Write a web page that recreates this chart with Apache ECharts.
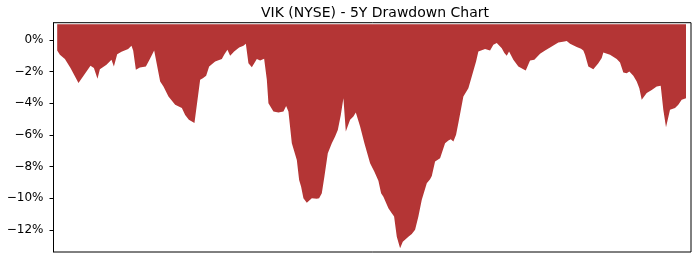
<!DOCTYPE html>
<html>
<head>
<meta charset="utf-8">
<script src="https://cdn.jsdelivr.net/npm/echarts@6/dist/echarts.min.js"></script>
<style>html,body{margin:0;padding:0;background:#fff}#c{width:700px;height:280px}</style>
</head>
<body>
<div id="c"></div>
<script>
// Position of each observation along the time axis (trading-day index units)
const dayPos = [0,2.7,7.7,13.3,21.3,29.3,33.3,36.7,40.3,42.7,49.3,54.3,56.7,60,64.3,71,74.3,76,78.7,82.7,88.7,92.7,97,103,106.3,111.3,118,124.7,128,131.7,137.3,143,145.7,149,152,158,164.7,167.3,170.3,173,177,182,186.3,188.7,191.3,194.7,199.7,203,204.7,207,209.7,211.3,216.3,221.3,226.3,229,231.3,234.7,239.7,242,244,246.3,249.7,254.7,259.7,262,264.7,267.3,270.7,274.7,278,280.7,283.7,286.3,288.7,293,296.3,298.7,300.7,303,307.3,313,317.3,321.3,324,326.3,331.3,334.7,337,339.7,343,345.7,351.3,354.7,358,361.3,364.7,369.7,373,374.7,378,383,388,391.3,393.7,396.3,399,401.3,406.3,411.3,414.7,419,421.3,428,433,436.3,439.7,444.7,447.3,449.7,452,456.3,461.3,466.3,468.7,473,477.3,483,488,494.7,501.3,507.3,509.7,513,514.7,519.7,524,526.3,528,531.3,536.3,541.3,544.7,546.3,553,559.7,563,566.3,569.7,572.3,576.3,579.7,582.3,584.7,589.7,594.7,599.7,603.7,606.3,609,613,618,621.3,624.7,629];
// Drawdown from running peak, percent
const drawdown = [-0.66,-0.93,-1.2,-1.77,-2.72,-1.99,-1.63,-1.77,-2.45,-1.84,-1.56,-1.25,-1.67,-0.89,-0.74,-0.57,-0.36,-0.66,-1.88,-1.73,-1.67,-1.2,-0.66,-2.62,-2.93,-3.57,-4.09,-4.3,-4.73,-5.04,-5.25,-2.51,-2.41,-2.26,-1.67,-1.35,-1.2,-0.89,-0.61,-0.99,-0.72,-0.47,-0.36,-0.23,-1.46,-1.71,-1.2,-1.29,-1.35,-1.18,-2.51,-3.99,-4.52,-4.58,-4.52,-4.16,-4.52,-6.52,-7.58,-8.84,-9.27,-10.0,-10.28,-10.0,-10.04,-10.0,-9.68,-8.63,-7.15,-6.52,-6.1,-5.68,-4.73,-3.67,-5.78,-5.04,-4.83,-4.58,-4.52,-5.47,-6.52,-7.78,-8.32,-8.9,-9.68,-9.9,-10.63,-10.95,-11.16,-12.43,-13.16,-12.75,-12.43,-12.26,-12.0,-11.16,-10.1,-9.05,-8.8,-8.59,-7.68,-7.47,-6.52,-6.35,-6.27,-6.42,-5.99,-5.25,-3.57,-3.04,-2.3,-1.35,-0.72,-0.57,-0.66,-0.3,-0.19,-0.51,-0.82,-0.99,-0.72,-1.25,-1.67,-1.84,-1.92,-1.29,-1.25,-0.87,-0.66,-0.41,-0.15,-0.09,-0.06,-0.23,-0.19,-0.44,-0.55,-0.66,-0.93,-1.67,-1.84,-1.46,-1.14,-0.78,-0.93,-1.2,-1.42,-2.05,-2.09,-1.99,-2.26,-2.62,-3.04,-3.78,-3.35,-3.15,-2.94,-2.89,-4.41,-5.51,-4.41,-4.3,-4.09,-3.78,-3.67,-4.37];
const yTicks = [0,-2,-4,-6,-8,-10,-12];
const titleText = 'VIK (NYSE) - 5Y Drawdown Chart';

const points = dayPos.map((x, i) => [x, drawdown[i]]);
const fmt = v => (v < 0 ? '\u2212' : '') + Math.abs(v) + '%';

const chart = echarts.init(document.getElementById('c'), null, {renderer: 'canvas'});
chart.setOption({
  animation: false,
  backgroundColor: '#fff',
  title: {
    text: titleText,
    left: 370, top: 1, textAlign: 'center',
    textStyle: {fontFamily: 'DejaVu Sans', fontSize: 14, fontWeight: 'normal', color: '#000'}
  },
  grid: {left: 53.5, right: 9, top: 22.7, bottom: 28, show: true, borderColor: '#000', borderWidth: 1, backgroundColor: 'transparent'},
  xAxis: {type: 'value', min: -3.7, max: 634, show: false},
  yAxis: {
    type: 'value', min: -13.4, max: 1.1,
    axisLine: {show: true, onZero: false, lineStyle: {color: '#000', width: 1}},
    axisTick: {show: true, length: 4, customValues: yTicks, lineStyle: {color: '#000'}},
    axisLabel: {customValues: yTicks, formatter: fmt, margin: 10, color: '#000', fontFamily: 'DejaVu Sans', fontSize: 12},
    splitLine: {show: false}
  },
  series: [{
    type: 'line',
    data: points,
    symbol: 'none',
    lineStyle: {width: 0},
    areaStyle: {color: '#b43535', opacity: 1, origin: 1}
  }]
});
</script>
</body>
</html>
